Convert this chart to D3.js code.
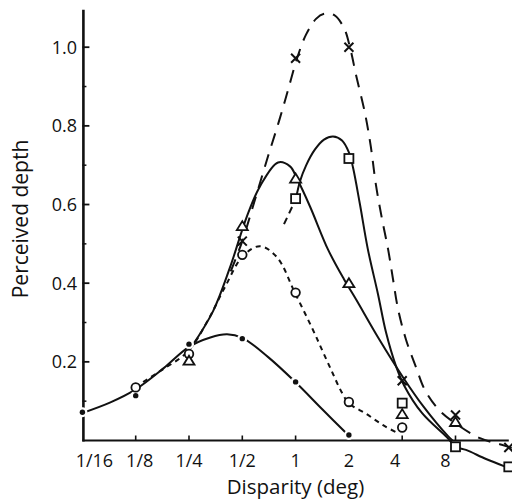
<!DOCTYPE html>
<html>
<head>
<meta charset="utf-8">
<script src="https://cdn.jsdelivr.net/npm/d3@7"></script>
<style>
  html, body { margin: 0; padding: 0; background: #fff; }
  svg { display: block; }
  text { font-family: "Open Sans", "Liberation Sans", sans-serif; fill: #111; }
</style>
</head>
<body>
<svg id="chart" width="512" height="500"></svg>
<script>
// Axis ticks
const disparityTicks = [1/16, 1/8, 1/4, 1/2, 1, 2, 4, 8];
const disparityLabels = ["1/16", "1/8", "1/4", "1/2", "1", "2", "4", "8"];
const depthTicks = [0.2, 0.4, 0.6, 0.8, 1.0];
const depthLabels = ["0.2", "0.4", "0.6", "0.8", "1.0"];
const depthMinorTicks = [0.1, 0.3, 0.5, 0.7, 0.9];

// Measured points: [disparity (deg), perceived depth]
const dotPoints = [[1/16, 0.072], [1/8, 0.114], [1/4, 0.245], [1/2, 0.259], [1, 0.149], [2, 0.014]];
const circlePoints = [[1/8, 0.135], [1/4, 0.22], [1/2, 0.472], [1, 0.376], [2, 0.098], [4, 0.033]];
const trianglePoints = [[1/4, 0.203], [1/2, 0.545], [1, 0.666], [2, 0.40], [4, 0.067], [8, 0.047]];
const squarePoints = [[1, 0.615], [2, 0.717], [4, 0.095], [8, -0.016], [16, -0.067]];
const crossPoints = [[1/2, 0.507], [1, 0.972], [2, 1.0], [4, 0.152], [8, 0.065], [16, -0.018]];

// Fitted curves through each set
const dotCurve = [[0.0625, 0.07], [0.09, 0.097], [0.125, 0.13], [0.18, 0.184], [0.25, 0.238], [0.33, 0.262],
  [0.41, 0.27], [0.5, 0.261], [0.7, 0.212], [1, 0.148], [1.41, 0.08], [2, 0.012]];
const circleCurve = [[0.124, 0.136], [0.171, 0.176], [0.247, 0.227], [0.32, 0.306], [0.399, 0.39],
  [0.504, 0.469], [0.629, 0.494], [0.785, 0.466], [0.992, 0.375], [1.254, 0.281], [1.428, 0.225],
  [1.627, 0.169], [1.805, 0.126], [2.0, 0.095], [2.5, 0.068], [3.12, 0.039], [3.8, 0.018]];
const triangleCurve = [[0.26, 0.24], [0.342, 0.329], [0.426, 0.44], [0.531, 0.57], [0.629, 0.646],
  [0.796, 0.707], [0.93, 0.697], [1.018, 0.666], [1.206, 0.595], [1.523, 0.486], [1.876, 0.41],
  [2.193, 0.359], [2.959, 0.258], [4.04, 0.161], [5.24, 0.088], [7.26, 0.011], [7.7, 0]];
const squareLead = [[0.86, 0.55], [1.005, 0.615]];
const squareCurve = [[1.005, 0.615], [1.059, 0.659], [1.145, 0.699], [1.287, 0.74], [1.447, 0.765],
  [1.627, 0.773], [1.829, 0.763], [2.003, 0.732], [2.11, 0.694], [2.31, 0.6], [2.56, 0.486],
  [2.92, 0.372], [3.24, 0.275], [3.69, 0.189], [4.1, 0.14], [5.17, 0.07], [7.16, 0.008],
  [8.05, -0.016], [9.17, -0.024], [11.9, -0.047], [15.4, -0.067]];
const crossCurve = [[0.43, 0.43], [0.5, 0.507], [0.59, 0.613], [0.698, 0.722], [0.806, 0.812],
  [0.906, 0.891], [1.018, 0.971], [1.145, 1.032], [1.304, 1.072], [1.447, 1.085], [1.647, 1.082],
  [1.876, 1.049], [2.03, 0.999], [2.193, 0.93], [2.46, 0.834], [2.66, 0.747], [2.84, 0.651],
  [3.08, 0.562], [3.33, 0.486], [3.55, 0.41], [3.79, 0.334], [4.2, 0.257], [4.79, 0.186],
  [5.38, 0.128], [6.54, 0.075], [8.27, 0.039], [11.0, 0.006], [14.6, -0.011], [16.7, -0.019]];

const svg = d3.select("#chart");

const x = d3.scaleLog().base(2).domain([1/16, 16]).range([82.4, 508.8]);
const y = d3.scaleLinear().domain([0, 1]).range([440.5, 47.2]);
const yTop = 1.095;

const line = d3.line()
  .x(d => x(d[0]))
  .y(d => y(d[1]))
  .curve(d3.curveCatmullRom.alpha(0.5));

// Axes
const axes = svg.append("g").attr("stroke", "#111").attr("fill", "none");
axes.append("line")
  .attr("x1", x(1/16)).attr("x2", x(16))
  .attr("y1", y(0)).attr("y2", y(0))
  .attr("stroke-width", 2.2);
axes.append("line")
  .attr("x1", x(1/16) + 1).attr("x2", x(1/16) + 1)
  .attr("y1", y(0) + 1).attr("y2", y(yTop))
  .attr("stroke-width", 2.6);

axes.selectAll(".xt").data(disparityTicks.slice(1)).join("line")
  .attr("x1", d => x(d)).attr("x2", d => x(d))
  .attr("y1", y(0)).attr("y2", y(0) - 5)
  .attr("stroke-width", 1.6);
axes.selectAll(".ytmaj").data(depthTicks).join("line")
  .attr("x1", x(1/16)).attr("x2", x(1/16) + 7)
  .attr("y1", d => y(d)).attr("y2", d => y(d))
  .attr("stroke-width", 1.8);
axes.selectAll(".ytmin").data(depthMinorTicks).join("line")
  .attr("x1", x(1/16)).attr("x2", x(1/16) + 4)
  .attr("y1", d => y(d)).attr("y2", d => y(d))
  .attr("stroke-width", 1.5);

// Tick labels (end labels nudged clear of the axis corner / curves)
const labelNudge = { "1/16": 12, "1/8": 4, "4": -7, "8": -10 };
svg.append("g").selectAll("text").data(disparityTicks).join("text")
  .attr("x", (d, i) => x(d) + (labelNudge[disparityLabels[i]] || 0))
  .attr("y", 467)
  .attr("text-anchor", "middle")
  .attr("font-size", 18)
  .text((d, i) => disparityLabels[i]);

svg.append("g").selectAll("text").data(depthTicks).join("text")
  .attr("x", 77)
  .attr("y", d => y(d))
  .attr("dy", "0.36em")
  .attr("text-anchor", "end")
  .attr("font-size", 18)
  .text((d, i) => depthLabels[i]);

svg.append("text")
  .attr("x", 295.5).attr("y", 494)
  .attr("text-anchor", "middle")
  .attr("font-size", 20.5)
  .text("Disparity (deg)");
svg.append("text")
  .attr("transform", "translate(28,219) rotate(-90)")
  .attr("text-anchor", "middle")
  .attr("font-size", 21)
  .text("Perceived depth");

// Curves
const curves = svg.append("g").attr("fill", "none").attr("stroke", "#111").attr("stroke-width", 2);
curves.append("path").attr("d", line(dotCurve));
curves.append("path").attr("d", line(circleCurve)).attr("stroke-dasharray", "5,4.5");
curves.append("path").attr("d", line(triangleCurve));
curves.append("path").attr("d", line(squareLead)).attr("stroke-dasharray", "7,5");
curves.append("path").attr("d", line(squareCurve));
curves.append("path").attr("d", line(crossCurve)).attr("stroke-dasharray", "13,9");

// Markers
const marks = svg.append("g");

marks.selectAll(".dot").data(dotPoints).join("g")
  .attr("transform", d => `translate(${x(d[0])},${y(d[1])})`)
  .each(function() {
    const g = d3.select(this);
    g.append("circle").attr("r", 5).attr("fill", "#fff");
    g.append("circle").attr("r", 2.7).attr("fill", "#111");
  });

marks.selectAll(".circ").data(circlePoints).join("circle")
  .attr("cx", d => x(d[0])).attr("cy", d => y(d[1]))
  .attr("r", 4.3)
  .attr("fill", "#fff").attr("stroke", "#111").attr("stroke-width", 1.8);

marks.selectAll(".tri").data(trianglePoints).join("path")
  .attr("transform", d => `translate(${x(d[0])},${y(d[1])})`)
  .attr("d", "M0,-5L5.5,4L-5.5,4Z")
  .attr("fill", "#fff").attr("stroke", "#111").attr("stroke-width", 1.8);

marks.selectAll(".sq").data(squarePoints).join("rect")
  .attr("x", d => x(d[0]) - 4.5).attr("y", d => y(d[1]) - 4.5)
  .attr("width", 9).attr("height", 9)
  .attr("fill", "#fff").attr("stroke", "#111").attr("stroke-width", 1.8);

marks.selectAll(".cross").data(crossPoints).join("path")
  .attr("transform", d => `translate(${x(d[0])},${y(d[1])})`)
  .attr("d", "M-4.5,-4.5L4.5,4.5M4.5,-4.5L-4.5,4.5")
  .attr("fill", "none").attr("stroke", "#111").attr("stroke-width", 2);
</script>
</body>
</html>
